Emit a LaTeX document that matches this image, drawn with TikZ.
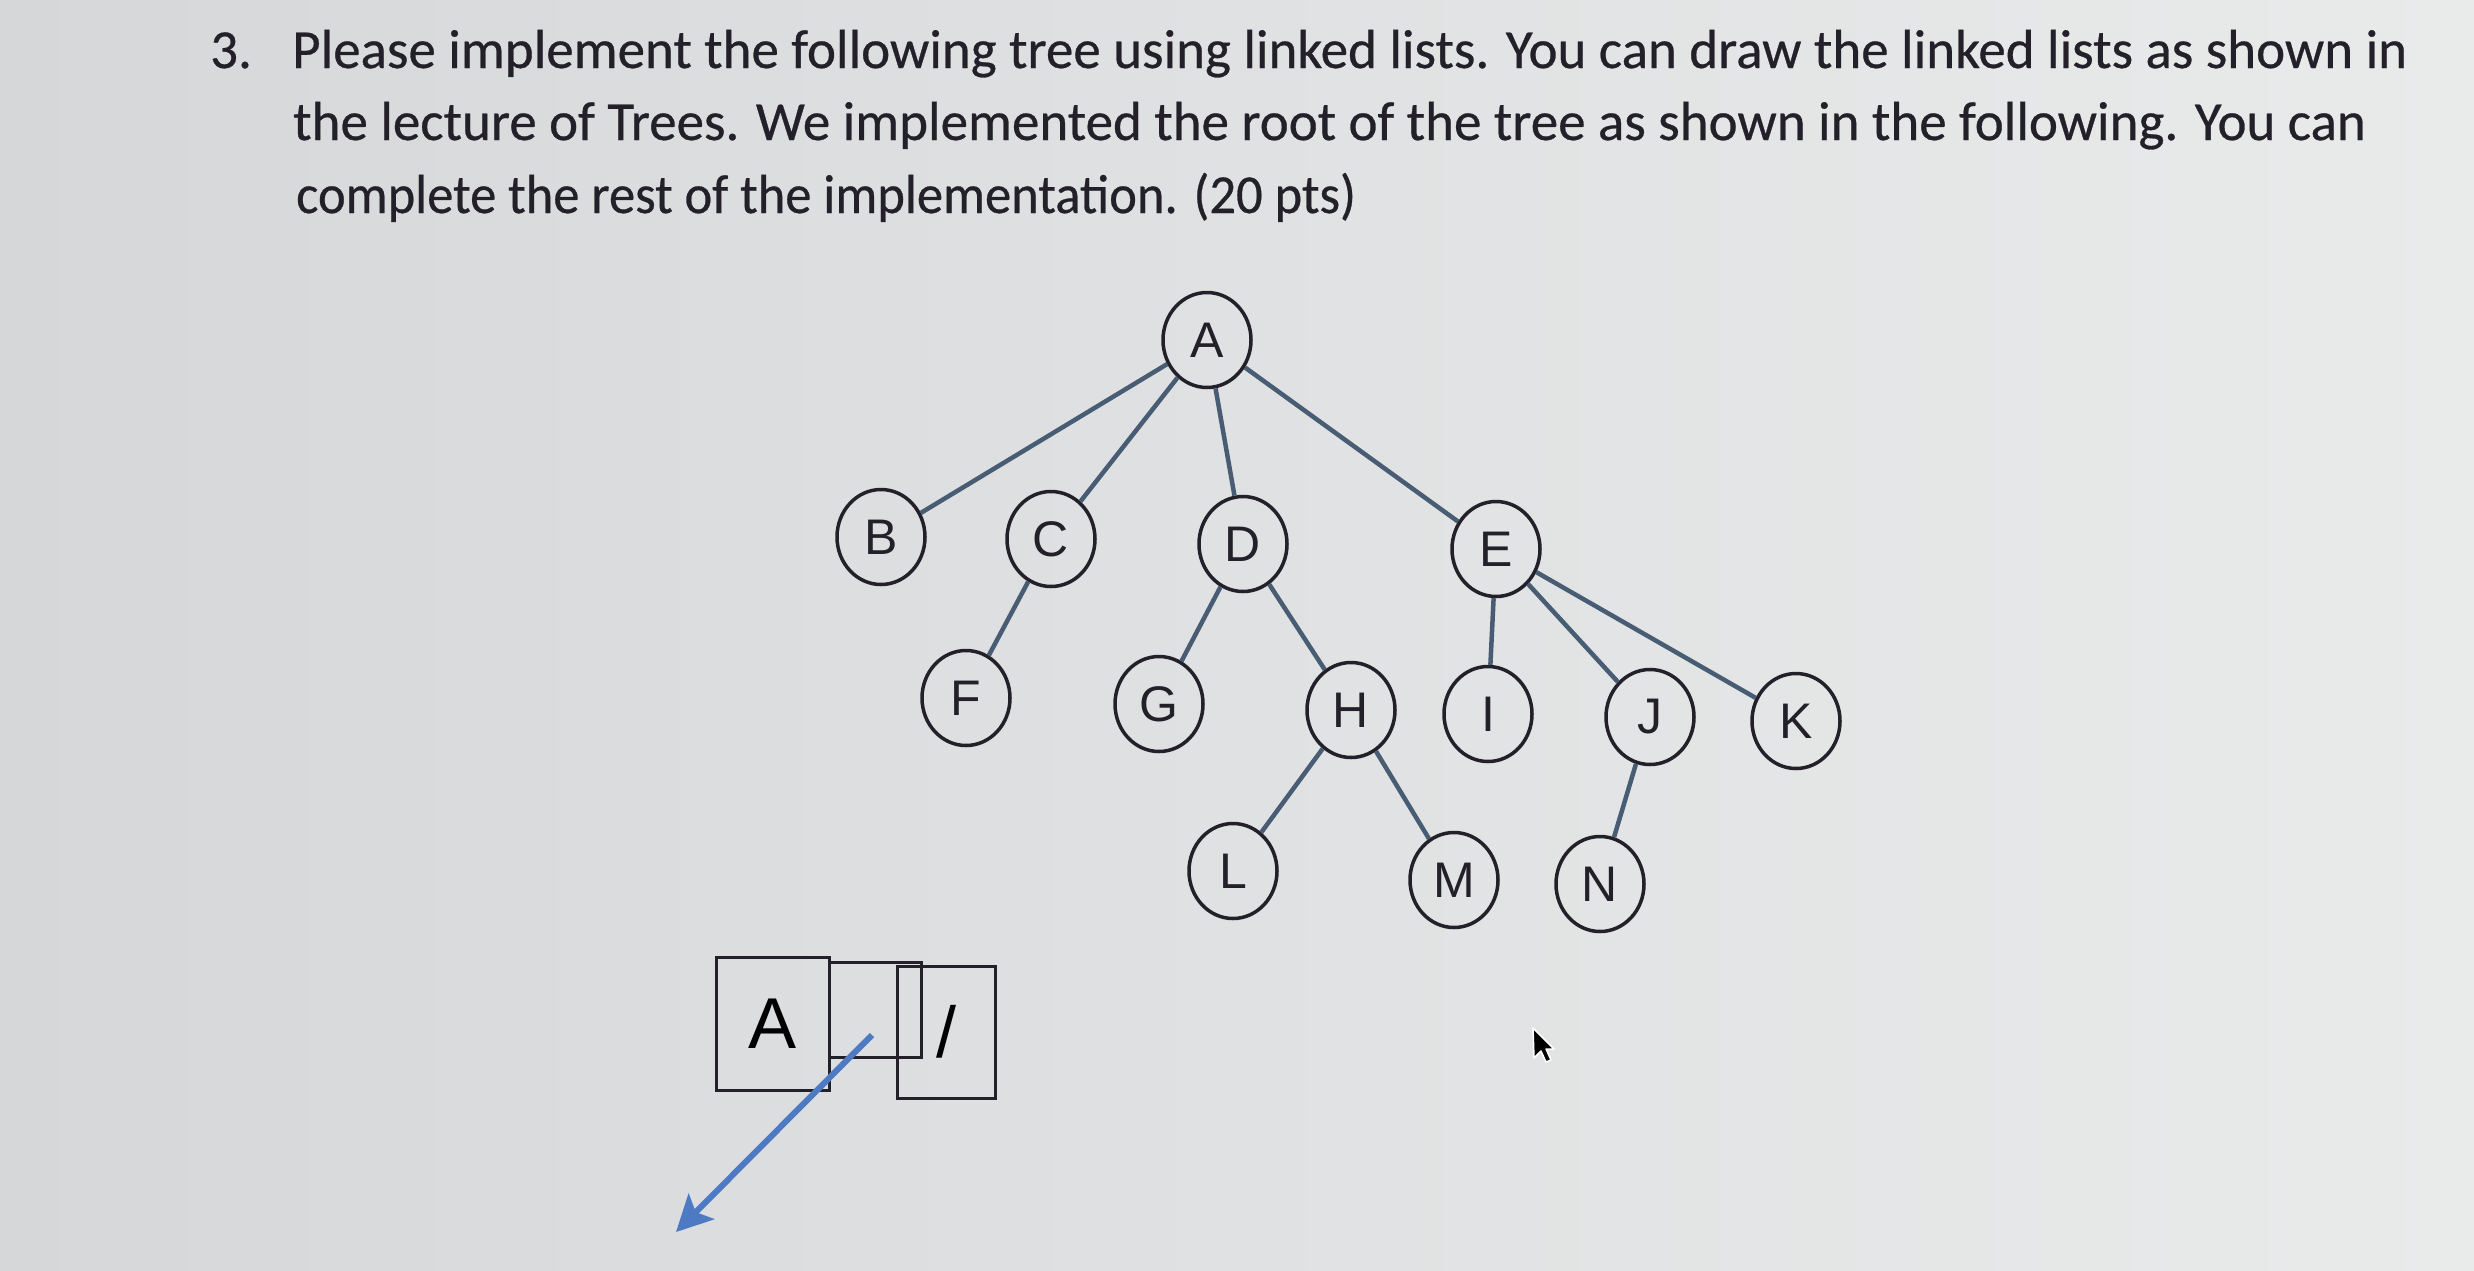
\documentclass[tikz,border=0pt]{standalone}
\usepackage{fontspec}
\setmainfont{Carlito}[FakeBold=0.5]
\newfontfamily\treefont{Liberation Sans}
\usetikzlibrary{arrows.meta,shapes.geometric}
\definecolor{bgl}{RGB}{213,215,217}
\definecolor{bgr}{RGB}{233,235,235}
\definecolor{edgec}{RGB}{72,92,116}
\definecolor{inkc}{RGB}{36,32,42}
\definecolor{arrowc}{RGB}{78,122,196}
\begin{document}
\begin{tikzpicture}[x=1pt,y=-1pt,
  tnode/.style={ellipse,draw=inkc,line width=3.5pt,minimum width=88pt,minimum height=95pt,inner sep=0pt,
    font=\treefont\fontsize{50}{50}\selectfont,text=inkc},
  tedge/.style={draw=edgec,line width=4.5pt},
  titletext/.style={anchor=base west,inner sep=0pt,font=\fontsize{55}{55}\selectfont,text=inkc},
  cell/.style={draw=inkc,line width=3pt,inner sep=0pt,
    font=\treefont\fontsize{72}{72}\selectfont,text=black},
  ]
\shade[left color=bgl,right color=bgr] (0,0) rectangle (2474,1270);
\useasboundingbox (0,0) rectangle (2474,1270);

% question text
\node[titletext] (num) at (210,68) {3.};
\node[titletext] (l1) at (292,68) {Please implement the following tree using linked lists. You can draw the linked lists as shown in};
\node[titletext] (l2) at (293,140) {the lecture of Trees. We implemented the root of the tree as shown in the following. You can};
\node[titletext,xscale=0.955] (l3) at (296,213) {complete the rest of the implementation. (20 pts)};

% tree
\node[tnode] (A) at (1207,340) {A};
\node[tnode] (B) at (881,537) {B};
\node[tnode] (C) at (1051,539) {C};
\node[tnode] (D) at (1243,544) {D};
\node[tnode] (E) at (1496,549) {E};
\node[tnode] (F) at (966,698) {F};
\node[tnode] (G) at (1159,704) {G};
\node[tnode] (H) at (1351,710) {H};
\node[tnode] (I) at (1488,714) {I};
\node[tnode] (J) at (1650,717) {J};
\node[tnode] (K) at (1796,721) {K};
\node[tnode] (L) at (1233,871) {L};
\node[tnode] (M) at (1454,880) {M};
\node[tnode] (N) at (1600,884) {N};

\foreach \p/\c in {A/B,A/C,A/D,A/E,C/F,D/G,D/H,E/I,E/J,E/K,H/L,H/M,J/N}
  \draw[tedge] (\p) -- (\c);

% linked-list root node
\node[cell,minimum width=113pt,minimum height=133pt] (cellA) at (772.5,1023.5) {A};
\node[cell,minimum width=92pt,minimum height=95pt] (cellB) at (875,1009.5) {};
\node[cell,minimum width=98pt,minimum height=132pt] (cellC) at (946,1032) {/};

\coordinate (ptr) at (872,1035);
\coordinate (ptrend) at (676,1232);
\draw[arrowc,line width=6pt,-{Stealth[length=36pt,width=36pt,inset=8pt]}] (ptr) -- (ptrend);

% mouse cursor
\fill[black,draw=white,line width=1.5pt,line join=round]
  (1533,1028) -- ++(1,30) -- ++(7,-7) -- ++(5,11) -- ++(5,-2) -- ++(-5,-11) -- ++(8,0) -- cycle;
\end{tikzpicture}
\end{document}
